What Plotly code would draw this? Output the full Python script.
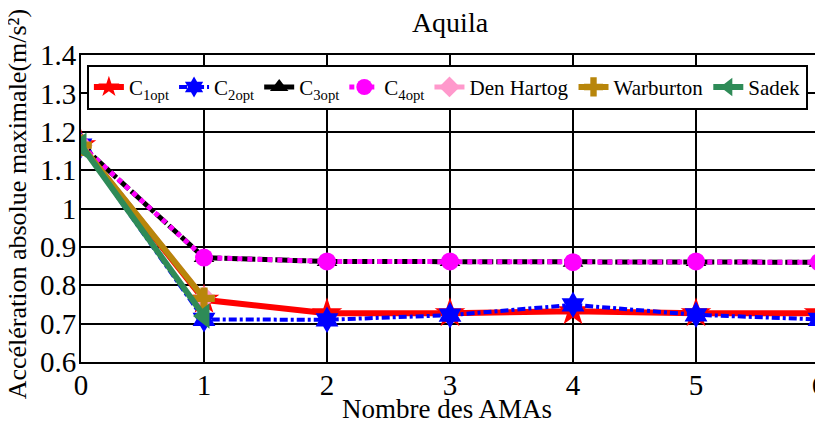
"""
Aquila: maximum absolute acceleration vs number of AMAs
"""

import plotly.graph_objects as go

# Data
n_amas = [0, 1, 2, 3, 4, 5, 6]
n_amas_short = [0, 1]

c1_opt = [1.165, 0.762, 0.727, 0.727, 0.732, 0.727, 0.727]
c2_opt = [1.165, 0.711, 0.710, 0.722, 0.749, 0.723, 0.711]
c3_opt = [1.165, 0.872, 0.862, 0.862, 0.860, 0.862, 0.860]
c4_opt = [1.165, 0.872, 0.862, 0.862, 0.860, 0.862, 0.860]
den_hartog = [1.165, 0.768]
warburton = [1.165, 0.766]
sadek = [1.165, 0.720]

y_ticks = [0.6, 0.7, 0.8, 0.9, 1.0, 1.1, 1.2, 1.3, 1.4]

FONT = "Liberation Serif, Times New Roman, serif"

# page body has an 8px margin, so the figure is shrunk by that much
PAGE_PAD = 8

fig = go.Figure()

# Main series
fig.add_trace(go.Scatter(
    x=n_amas, y=c1_opt, name="C<sub>1opt</sub>", mode="lines+markers",
    line=dict(color="red", width=6),
    marker=dict(symbol="star", size=23, color="red"),
))
fig.add_trace(go.Scatter(
    x=n_amas, y=c2_opt, name="C<sub>2opt</sub>", mode="lines+markers",
    line=dict(color="blue", width=4, dash="8px,3px,3px,3px"),
    marker=dict(symbol="hexagram", size=20, color="blue"),
))
fig.add_trace(go.Scatter(
    x=n_amas, y=c3_opt, name="C<sub>3opt</sub>", mode="lines+markers",
    line=dict(color="black", width=5, dash="14px,3px"),
    marker=dict(symbol="triangle-up", size=18, color="black"),
))
fig.add_trace(go.Scatter(
    x=n_amas, y=c4_opt, name="C<sub>4opt</sub>", mode="lines+markers",
    line=dict(color="magenta", width=5, dash="5px,5px"),
    marker=dict(symbol="circle", size=18, color="magenta"),
))

# Classical tuning rules (only 0 and 1 AMA)
fig.add_trace(go.Scatter(
    x=n_amas_short, y=den_hartog, name="Den Hartog", mode="lines+markers",
    line=dict(color="#FF99CC", width=5),
    marker=dict(symbol="diamond", size=18, color="#FF99CC"),
))
fig.add_trace(go.Scatter(
    x=n_amas_short, y=warburton, name="Warburton", mode="lines+markers",
    line=dict(color="#B8860B", width=6),
    marker=dict(symbol="cross", size=18, color="#B8860B"),
))
fig.add_trace(go.Scatter(
    x=n_amas_short, y=sadek, name="Sadek", mode="lines+markers",
    line=dict(color="#2E8B57", width=6),
    marker=dict(symbol="triangle-left", size=22, color="#2E8B57"),
))

fig.update_layout(
    width=823 - PAGE_PAD, height=421 - PAGE_PAD,
    margin=dict(l=81 - PAGE_PAD, r=4, t=55 - PAGE_PAD, b=59),
    paper_bgcolor="white", plot_bgcolor="white",
    font=dict(family=FONT, size=28, color="black"),
    title=dict(text="Aquila", x=0.5, xref="paper", xanchor="center",
               y=1 - (22 - PAGE_PAD) / (421 - PAGE_PAD), yref="container",
               yanchor="middle",
               font=dict(family=FONT, size=28, color="black")),
    showlegend=True,
    legend=dict(
        orientation="h", x=0.008, y=0.968, xanchor="left", yanchor="top",
        bgcolor="white", bordercolor="black", borderwidth=2,
        font=dict(family=FONT, size=21, color="black"),
        itemwidth=30,
    ),
)

# Axis titles as annotations so they sit exactly where the reference has them
fig.add_annotation(
    text="Nombre des AMAs", xref="paper", yref="paper",
    x=0.496, y=-0.153, xanchor="center", yanchor="middle",
    showarrow=False, font=dict(family=FONT, size=27),
)
fig.add_annotation(
    text="Accélération absolue maximale(m/s²)", xref="paper", yref="paper",
    x=-0.086, y=0.512, xanchor="center", yanchor="middle", textangle=-90,
    showarrow=False, font=dict(family=FONT, size=26),
)

fig.update_xaxes(
    range=[0, 6], dtick=1, tick0=0,
    showgrid=True, gridcolor="black", gridwidth=1.5,
    showline=True, linecolor="black", linewidth=2, mirror=True,
    zeroline=False, ticks="", automargin=False,
    ticklabeloverflow="allow", ticklabelstandoff=-4,
    tickfont=dict(family=FONT, size=29),
)
fig.update_yaxes(
    range=[0.6, 1.4], tickvals=y_ticks,
    showgrid=True, gridcolor="black", gridwidth=1.5,
    showline=True, linecolor="black", linewidth=2, mirror=True,
    zeroline=False, ticks="", automargin=False,
    ticklabelstandoff=-3,
    tickfont=dict(family=FONT, size=29),
)

fig.write_html("out.html")
